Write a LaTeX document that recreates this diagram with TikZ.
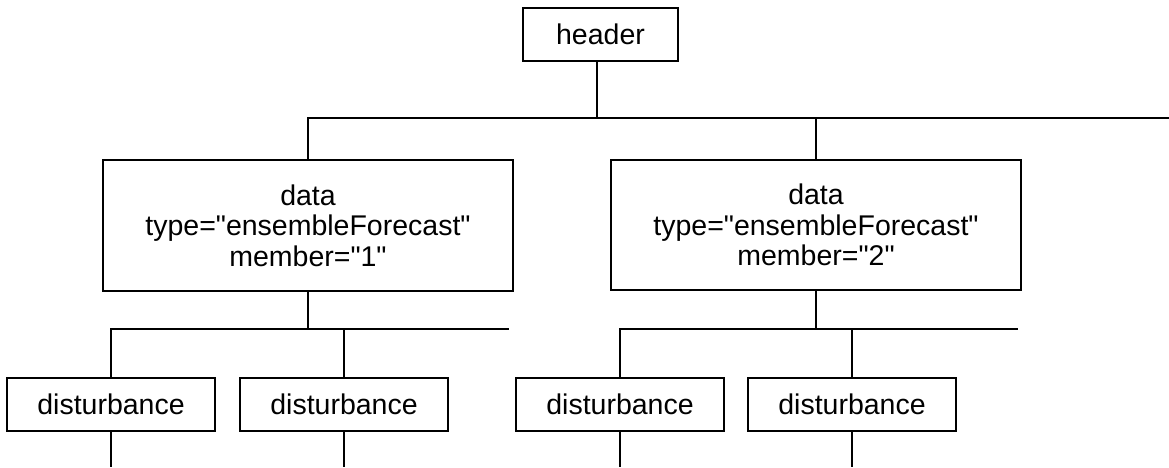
\documentclass[tikz,border=0pt]{standalone}
\usepackage{fontspec}
\setmainfont{Liberation Sans}[Ligatures=TeXOff]
\begin{document}
\begin{tikzpicture}[x=1pt,y=-1pt,
  box/.style={draw=black, line width=2pt, rectangle, inner sep=0pt, align=center,
    font=\fontsize{28.5}{30.5}\selectfont},
  conn/.style={draw=black, line width=2pt},
  leaf/.style={box, minimum width=208, minimum height=53}]
\useasboundingbox (0,0) rectangle (1169,467);
% nodes
\node[box, minimum width=155, minimum height=53] (header) at (600.5,34.5) {header};
\node[box, minimum width=410, minimum height=131] (d1) at (308,225.5)
  {data\\type="ensembleForecast"\\member="1"};
\node[box, minimum width=410, minimum height=130] (d2) at (816,225)
  {data\\type="ensembleForecast"\\member="2"};
\node[leaf] (b1) at (111,404.5) {disturbance};
\node[leaf] (b2) at (344,404.5) {disturbance};
\node[leaf] (b3) at (620,404.5) {disturbance};
\node[leaf] (b4) at (852,404.5) {disturbance};
% bus coordinates
\coordinate (topbus) at (597,118);
\coordinate (topR) at (1169,118);
\coordinate (bus1) at (308,329);
\coordinate (bus1R) at (509,329);
\coordinate (bus2) at (816,329);
\coordinate (bus2R) at (1018,329);
\coordinate (e1) at (111,467);
\coordinate (e2) at (344,467);
\coordinate (e3) at (620,467);
\coordinate (e4) at (852,467);
% connectors
\draw[conn] ([xshift=-3.5pt]header.south) -- (topbus);
\draw[conn] (d1.north) -- (d1.north |- topbus) -- (topR);
\draw[conn] (d2.north) -- (d2.north |- topbus);
\draw[conn] (d1.south) -- (bus1);
\draw[conn] (b1.north) -- (b1.north |- bus1) -- (bus1R);
\draw[conn] (b2.north) -- (b2.north |- bus1);
\draw[conn] (d2.south) -- (bus2);
\draw[conn] (b3.north) -- (b3.north |- bus2) -- (bus2R);
\draw[conn] (b4.north) -- (b4.north |- bus2);
\draw[conn] (b1.south) -- (e1);
\draw[conn] (b2.south) -- (e2);
\draw[conn] (b3.south) -- (e3);
\draw[conn] (b4.south) -- (e4);
\end{tikzpicture}
\end{document}
